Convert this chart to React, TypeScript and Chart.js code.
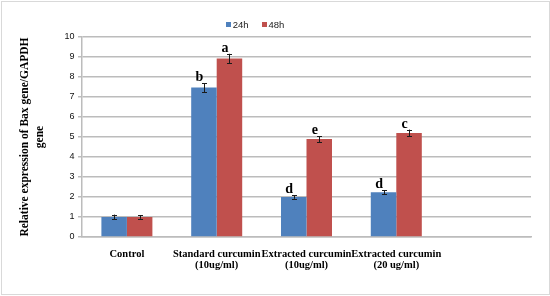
import React, { useEffect, useRef } from 'react';
import { Chart, registerables } from 'chart.js';

Chart.register(...registerables);

const categories: (string | string[])[] = [
  'Control',
  ['Standard curcumin', '(10ug/ml)'],
  ['Extracted curcumin', '(10ug/ml)'],
  ['Extracted curcumin', '(20 ug/ml)'],
  '',
];
const seriesNames = ['24h', '48h'];
const values24h = [1.0, 7.47, 2.0, 2.24, null];
const values48h = [1.0, 8.93, 4.9, 5.2, null];
const errors24h = [0.12, 0.22, 0.09, 0.1, null];
const errors48h = [0.09, 0.23, 0.15, 0.17, null];
const letters24h = ['', 'b', 'd', 'd', ''];
const letters48h = ['', 'a', 'e', 'c', ''];
const yMin = 0;
const yMax = 10;
const yStep = 1;
const yTitle = ['Relative expression of Bax gene/GAPDH', 'gene'];

const BLUE = '#4F81BD';
const RED = '#C0504D';
const GRID = '#bcbcbc';

const errorBarPlugin = {
  id: 'errorBarsLetters',
  afterDatasetsDraw(chart: any) {
    const ctx = chart.ctx;
    const y = chart.scales.y;
    chart.data.datasets.forEach((ds: any, di: number) => {
      const meta = chart.getDatasetMeta(di);
      meta.data.forEach((bar: any, i: number) => {
        const v = ds.data[i];
        if (v == null) return;
        const e = ds.errors[i] || 0;
        const yTop = y.getPixelForValue(v + e);
        const yBot = y.getPixelForValue(v - e);
        const x = Math.round(bar.x) + 0.5;
        ctx.save();
        ctx.strokeStyle = '#1a1a1a';
        ctx.lineWidth = 1;
        ctx.beginPath();
        ctx.moveTo(x, yTop);
        ctx.lineTo(x, yBot);
        ctx.moveTo(x - 2.5, Math.round(yTop) + 0.5);
        ctx.lineTo(x + 2.5, Math.round(yTop) + 0.5);
        ctx.moveTo(x - 2.5, Math.round(yBot) + 0.5);
        ctx.lineTo(x + 2.5, Math.round(yBot) + 0.5);
        ctx.stroke();
        const letter = ds.letters[i];
        if (letter) {
          ctx.fillStyle = '#000';
          ctx.font = 'bold 14px "Liberation Serif", "Times New Roman", serif';
          ctx.textAlign = 'center';
          ctx.textBaseline = 'alphabetic';
          ctx.fillText(letter, bar.x - 4.5, yTop - 2);
        }
        ctx.restore();
      });
    });
  },
};

const customLegend = {
  id: 'customLegend',
  afterDraw(chart: any, _args: any, opts: any) {
    const ctx = chart.ctx;
    ctx.save();
    ctx.font = '9.5px "Liberation Sans", Arial, sans-serif';
    const box = 5;
    const gapText = 2;
    const gapItem = 13;
    const items = chart.data.datasets.map((ds: any) => ({
      label: ds.label,
      color: ds.backgroundColor,
      w: box + gapText + ctx.measureText(ds.label).width,
    }));
    const total = items.reduce((s: number, it: any) => s + it.w, 0) + gapItem * (items.length - 1);
    let x = opts.centerX - total / 2;
    const cy = opts.y;
    items.forEach((it: any) => {
      ctx.fillStyle = it.color;
      ctx.fillRect(Math.round(x), Math.round(cy - box / 2), box, box);
      ctx.fillStyle = '#222';
      ctx.textAlign = 'left';
      ctx.textBaseline = 'middle';
      ctx.fillText(it.label, x + box + gapText, cy + 0.5);
      x += it.w + gapItem;
    });
    ctx.restore();
  },
};

export default function App() {
  const ref = useRef<HTMLCanvasElement>(null);

  useEffect(() => {
    if (!ref.current) return;
    const chart = new Chart(ref.current, {
      type: 'bar',
      data: {
        labels: categories,
        datasets: [
          {
            label: seriesNames[0],
            data: values24h,
            backgroundColor: BLUE,
            errors: errors24h,
            letters: letters24h,
          } as any,
          {
            label: seriesNames[1],
            data: values48h,
            backgroundColor: RED,
            errors: errors48h,
            letters: letters48h,
          } as any,
        ],
      },
      options: {
        animation: false,
        responsive: true,
        maintainAspectRatio: false,
        layout: { padding: { top: 37, left: 10, right: 19, bottom: 0 } },
        datasets: {
          bar: { categoryPercentage: 0.568, barPercentage: 1.0, borderWidth: 0 },
        },
        plugins: {
          legend: { display: false },
          tooltip: { enabled: false },
          customLegend: { centerX: 255, y: 24.5 },
        } as any,
        scales: {
          x: {
            type: 'category',
            grid: { display: false, drawTicks: false },
            border: { display: true, color: GRID, width: 1.5 },
            ticks: {
              color: '#000',
              padding: 11,
              maxRotation: 0,
              autoSkip: false,
              font: { family: '"Liberation Serif", "Times New Roman", serif', size: 10.5, weight: 'bold', lineHeight: 1.11 },
            },
            afterFit: (s: any) => {
              s.height = 59;
            },
          },
          y: {
            min: yMin,
            max: yMax,
            ticks: {
              stepSize: yStep,
              color: '#111',
              padding: 3.5,
              font: { family: '"Liberation Sans", Arial, sans-serif', size: 9 },
            },
            grid: { color: GRID, lineWidth: 1.5, tickLength: 4, drawTicks: true },
            border: { display: true, color: GRID, width: 1.5 },
            title: {
              display: true,
              text: yTitle,
              color: '#000',
              padding: { top: 7.5, bottom: 0 },
              font: { family: '"Liberation Serif", "Times New Roman", serif', size: 11.5, weight: 'bold', lineHeight: 1.3 },
            },
            afterFit: (s: any) => {
              s.width = 72;
            },
          },
        },
      },
      plugins: [errorBarPlugin, customLegend],
    });
    return () => chart.destroy();
  }, []);

  return (
    <div style={{ position: 'absolute', left: 0, top: 0, width: 550, height: 296, background: '#fff' }}>
      <div
        style={{
          position: 'absolute',
          left: 1,
          top: 1,
          width: 547,
          height: 292,
          border: '1px solid #d9d9d9',
        }}
      />
      <canvas ref={ref} style={{ position: 'absolute', left: 0, top: 0, width: 550, height: 296 }} />
    </div>
  );
}
